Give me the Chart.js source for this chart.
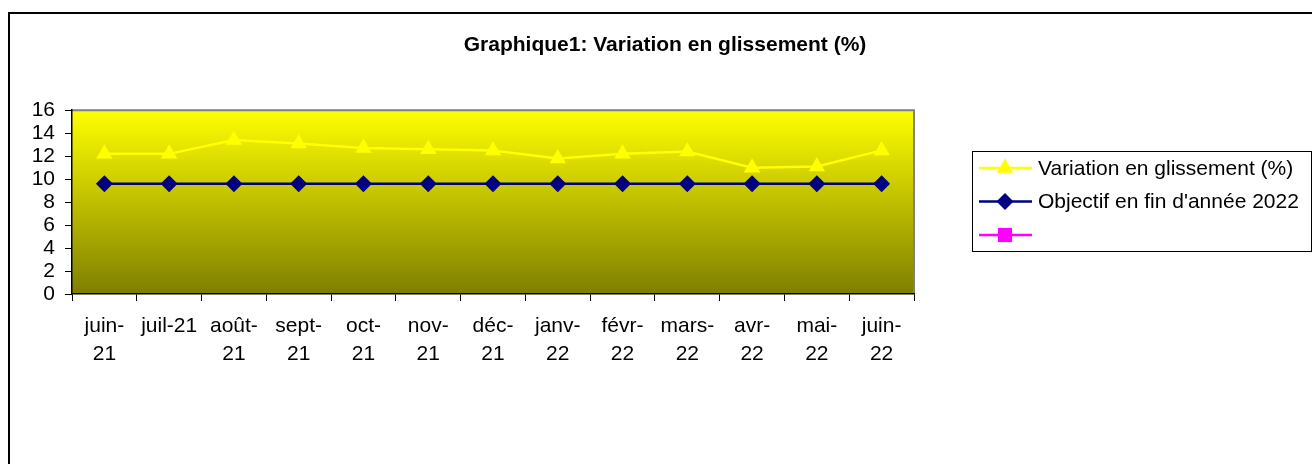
<!DOCTYPE html>
<html>
<head>
<meta charset="utf-8">
<script src="https://cdn.jsdelivr.net/npm/chart.js@4.4.0/dist/chart.umd.min.js"></script>
<style>
  html, body { margin: 0; padding: 0; background: #fff; }
  #wrap { width: 1312px; height: 464px; }
</style>
</head>
<body>
<div id="wrap"><canvas id="chart1"></canvas></div>
<script>
const months = ['juin-21', 'juil-21', 'août-21', 'sept-21', 'oct-21', 'nov-21', 'déc-21',
                'janv-22', 'févr-22', 'mars-22', 'avr-22', 'mai-22', 'juin-22'];
const tickLabels = [['juin-', '21'], ['juil-21'], ['août-', '21'], ['sept-', '21'], ['oct-', '21'],
                    ['nov-', '21'], ['déc-', '21'], ['janv-', '22'], ['févr-', '22'], ['mars-', '22'],
                    ['avr-', '22'], ['mai-', '22'], ['juin-', '22']];
const variation = [12.2, 12.2, 13.4, 13.1, 12.7, 12.6, 12.5, 11.8, 12.2, 12.4, 11.0, 11.1, 12.5];
const objectif = [9.6, 9.6, 9.6, 9.6, 9.6, 9.6, 9.6, 9.6, 9.6, 9.6, 9.6, 9.6, 9.6];
const blank = [];
const yTicks = [0, 2, 4, 6, 8, 10, 12, 14, 16];

const FONT = 'Liberation Sans, Arial, sans-serif';

// gradient plot background + frame, outer border
const decor = {
  id: 'decor',
  beforeDraw(chart) {
    const { ctx, chartArea: a } = chart;
    ctx.save();
    ctx.strokeStyle = '#000';
    ctx.lineWidth = 2;
    ctx.strokeRect(9, 13, 1400, 500);
    const g = ctx.createLinearGradient(0, a.top, 0, a.bottom);
    g.addColorStop(0, '#ffff00');
    g.addColorStop(1, '#7f7f00');
    ctx.fillStyle = g;
    ctx.fillRect(a.left, a.top, a.right - a.left, a.bottom - a.top);
    ctx.strokeStyle = '#808080';
    ctx.lineWidth = 2;
    ctx.beginPath();
    ctx.moveTo(a.left, a.top);
    ctx.lineTo(a.right, a.top);
    ctx.lineTo(a.right, a.bottom);
    ctx.stroke();
    ctx.restore();
  },
  afterDraw(chart) {
    // legend box with line + marker samples
    const ctx = chart.ctx;
    ctx.save();
    ctx.fillStyle = '#fff';
    ctx.fillRect(972, 151, 339, 100);
    ctx.strokeStyle = '#000';
    ctx.lineWidth = 1;
    ctx.strokeRect(972.5, 151.5, 339, 100);
    chart.data.datasets.forEach((ds, i) => {
      const y = 168 + i * 33.5;
      ctx.strokeStyle = ds.borderColor;
      ctx.lineWidth = 2.5;
      ctx.beginPath();
      ctx.moveTo(979, y);
      ctx.lineTo(1032, y);
      ctx.stroke();
      ctx.fillStyle = ds.pointBackgroundColor;
      ctx.strokeStyle = ds.pointBorderColor;
      Chart.helpers.drawPoint(ctx, { pointStyle: ds.pointStyle, radius: ds.pointRadius, rotation: 0, borderWidth: 0 }, 1005, y);
      ctx.fillStyle = '#000';
      ctx.font = '21px ' + FONT;
      ctx.textBaseline = 'middle';
      ctx.textAlign = 'left';
      ctx.fillText(ds.label, 1038, y + 1);
    });
    ctx.restore();
  }
};

new Chart(document.getElementById('chart1').getContext('2d'), {
  type: 'line',
  data: {
    labels: months,
    datasets: [{
      label: 'Variation en glissement (%)',
      data: variation,
      borderColor: '#ffff00',
      borderWidth: 2.5,
      pointStyle: 'triangle',
      pointRadius: 9.5,
      pointBackgroundColor: '#ffff00',
      pointBorderColor: '#ffff00',
      pointBorderWidth: 0
    }, {
      label: "Objectif en fin d'année 2022",
      data: objectif,
      borderColor: '#000080',
      borderWidth: 2.5,
      pointStyle: 'rectRot',
      pointRadius: 8.5,
      pointBackgroundColor: '#000080',
      pointBorderColor: '#000080',
      pointBorderWidth: 0
    }, {
      label: '',
      data: blank,
      borderColor: '#ff00ff',
      borderWidth: 2.5,
      pointStyle: 'rect',
      pointRadius: 10,
      pointBackgroundColor: '#ff00ff',
      pointBorderColor: '#ff00ff',
      pointBorderWidth: 0
    }]
  },
  options: {
    responsive: true,
    maintainAspectRatio: false,
    animation: false,
    layout: { padding: { left: 18, right: 0, top: 0, bottom: 0 } },
    plugins: {
      legend: { display: false },
      tooltip: { enabled: false },
      title: {
        display: true,
        text: 'Graphique1: Variation en glissement (%)',
        color: '#000',
        font: { family: FONT, size: 21, weight: 'bold', lineHeight: 1.2 },
        padding: { top: 33, bottom: 52 }
      }
    },
    scales: {
      x: {
        offset: true,
        grid: { display: true, offset: true, drawOnChartArea: false, tickLength: 7, tickColor: '#000' },
        border: { color: '#000', width: 1.5 },
        ticks: {
          color: '#000',
          maxRotation: 0,
          autoSkip: false,
          padding: 12,
          font: { family: FONT, size: 21, lineHeight: 1.3 },
          callback: (v, i) => tickLabels[i]
        },
        afterFit: s => { s.height = 170; }
      },
      y: {
        min: 0,
        max: 16,
        afterBuildTicks: s => { s.ticks = yTicks.map(v => ({ value: v })); },
        grid: { display: true, drawOnChartArea: false, tickLength: 7, tickColor: '#000' },
        border: { color: '#000', width: 1.5 },
        ticks: { color: '#000', autoSkip: false, padding: 10, font: { family: FONT, size: 21 } },
        afterFit: s => { s.width = 54; }
      },
      y2: {
        position: 'right',
        display: true,
        grid: { display: false },
        border: { display: false },
        ticks: { display: false },
        afterFit: s => { s.width = 398; }
      }
    }
  },
  plugins: [decor]
});
</script>
</body>
</html>
